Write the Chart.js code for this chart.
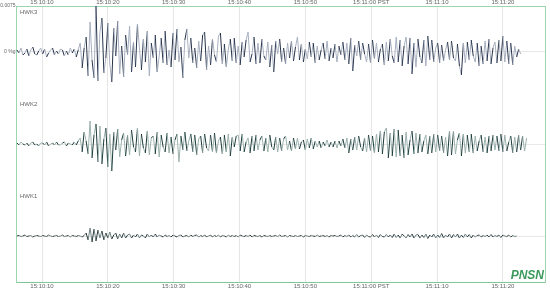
<!DOCTYPE html>
<html><head><meta charset="utf-8">
<script src="https://cdn.jsdelivr.net/npm/chart.js@4/dist/chart.umd.min.js"></script>
<style>html,body{margin:0;padding:0;background:#fff}#wrap{width:550px;height:290px}</style>
</head><body><div id="wrap"><canvas id="c" width="550" height="290"></canvas></div>
<script>
// ---- data ----
const stations = ['HWK3', 'HWK2', 'HWK1'];
const traceBaselines = [0, -0.015, -0.03];      // %g baseline of each trace
const countsToG = 0.0075 / 46;                  // %g per count
const startSec = 6.2;                           // seconds after 15:10:00 PST
const sampleSec = 0.3;
const tickSeconds = [10, 20, 30, 40, 50, 60, 70, 80];
const tickLabels = ['15:10:10', '15:10:20', '15:10:30', '15:10:40', '15:10:50', '15:11:00 PST', '15:11:10', '15:11:20'];
const yTickValues = [0.0075, 0, -0.015, -0.03];
const yTickLabels = ['0.0075', '0 %g', '', ''];

const hwk3 = [
  2,-1,4,-3,-1,3,-4,2,5,-2,-3,1,4,-2,3,-5,-1,2,4,-3,1,-2,3,2,-4,1,-3,4,-1,3,-5,2,
  9,-16,4,15,-24,30,-8,-26,46,-29,
  20,34,-21,-6,29,-12,-30,24,-4,31,
  -22,6,-25,17,-3,26,-20,10,-15,28,
  4,-18,13,-10,21,-24,9,-6,17,-20,
  -4,14,-11,21,-13,2,-15,19,-8,23,
  -10,5,-26,12,23,-6,14,-11,4,-16,
  11,-9,17,20,-18,6,-13,13,-3,-10,
  16,19,-12,8,-15,3,13,-9,14,-11,
  6,-13,10,-5,12,20,-10,-2,15,-12,
  9,-11,13,-4,-8,10,-15,7,-20,11,
  -2,13,-10,4,-12,9,-6,11,-9,5,
  15,-8,8,-10,3,-7,10,-5,9,-11,
  6,-8,2,9,-7,11,-9,4,-6,8,
  -10,6,-3,10,-8,9,-12,14,-19,7,
  -4,11,-8,9,-2,-10,8,-11,12,-7,
  9,-10,3,8,-13,10,-9,13,-4,-11,
  15,-10,12,-14,6,15,-12,14,-22,9,
  -15,13,-5,-11,12,-14,16,-8,12,-10,
  4,9,-11,7,-9,2,10,-8,11,-6,
  -9,8,-14,-23,9,-11,10,-8,12,-4,
  -10,9,-14,6,-12,11,-9,13,-12,4,
  10,-11,12,-9,16,-10,11,-12,9,-13,6,-5,3,-2
];
const hwk2 = [
  1,-1,2,0,-1,1,-2,1,2,-1,0,-2,1,1,-1,2,-2,0,1,-1,2,-1,-1,1,2,-2,1,0,-1,2,-1,3,
  6,-8,12,3,-10,23,-14,9,20,-18,
  18,-20,5,16,-23,10,-27,12,-6,15,
  -13,4,11,-12,9,-11,14,-3,-8,16,
  -12,10,-4,-9,13,-11,6,8,-10,12,
  -13,9,-3,-8,11,-9,7,-10,4,10,
  -18,8,-6,12,-7,3,10,-8,9,-11,
  5,8,-9,10,-4,-7,9,-8,11,-9,
  3,7,-10,9,-8,10,-12,7,-3,8,
  9,-7,10,-8,2,6,-9,8,-7,9,
  -6,4,8,-7,6,-8,9,-3,-6,7,
  -8,6,-7,5,8,-6,3,-7,6,-5,
  6,-5,2,4,-6,5,-4,6,-5,3,
  -3,3,-4,2,-2,4,-3,2,-3,3,
  -4,3,-2,5,-4,6,-9,5,-6,7,
  -6,8,-3,-7,6,-8,9,-7,8,-9,
  10,-8,13,-10,12,16,-14,11,-12,15,
  -13,14,-12,9,-14,12,-11,4,13,-10,
  11,-9,10,-8,3,9,-10,8,-9,10,
  -8,9,-7,8,-9,7,-12,13,-11,13,
  -10,4,11,-12,10,-9,9,-8,10,-9,
  8,-7,3,9,-8,7,-9,8,-7,9,
  -6,8,-7,10,-8,9,-7,2,8,-9,
  7,-8,9,-6,8,-7,6
];
const hwk1 = [
  0,0.5,-0.5,0,1,-0.5,0,0.5,-1,0,0.5,0,-0.5,0.5,0,-0.5,1,0,-0.5,0,0.5,-0.5,0,1,-0.5,0,0.5,-1,0.5,0,-0.5,0.5,0,-1,0.5,
  3,-4,8,-6,7,-5,6,-2,5,-4,
  3,-2,4,-3,1,3,-3,2,-2,3,
  -2,1,2,-2,1,-1,2,-2,1,0,-2,2,-1,1,-1,2,
  -1,1,0,-1,1,-0.5,0.5,-1,1,0,
  -1,0.5,1,-1,0,0.5,-1,1,-0.5,0.5,
  1,-1,0.5,-0.5,1,-1,0,1,-1,0.5,
  -0.5,1,-1,0.5,0,-1,1,-0.5,0.5,-0.5,
  0.5,-1,1,0,-0.5,0.5,-0.5,1,-1,0.5,
  0,-0.5,0.5,-1,0.5,0,-0.5,0.5,-0.5,0,
  0.5,-0.5,1,-0.5,0,0.5,-1,0.5,0,-0.5,
  0.5,-0.5,0,0.5,-1,0.5,0,-0.5,0.5,0,
  -0.5,1,-0.5,0,0.5,-0.5,0.5,-1,0.5,0,
  0.5,-0.5,0,1,-1,0.5,-0.5,1,-1,0.5,
  -1,1.5,-1,0.5,1,-1.5,1,-0.5,-1,1.5,
  -1,1,-1.5,1.5,-0.5,-1,1.5,-1,1,-1.5,
  2,-1.5,1,-2,2,0,-2,1.5,-1,2,
  -2,1,1.5,-2,1,-1.5,2,-2.5,1,-1,
  2,-2,1,-1.5,2.5,-2,1,-1,2,-2,
  1.5,-1,2,-2,1,-1.5,2,-1,1.5,-2,
  1,-1,0.5,1,-1,0.5,-0.5,1,-1,1.5,-1,0.5,-0.5,1,-1.5,1,0,-0.5,1,-1,0.5,-0.5,0
];
const traces = [hwk3, hwk2, hwk1];

// ---- styles ----
const FONT = 'Liberation Sans, Arial, sans-serif';
const traceColors = [
  { dark: '#26334a', light: '#a8b0c0' },
  { dark: '#1c3a3a', light: '#9cb2ad' },
  { dark: '#263636', light: '#6f8080' }
];
const frameGreen = '#9ad6ae';
const axisGreen = '#7cc896';

const datasets = traces.map((arr, k) => ({
  label: stations[k],
  data: arr.map((c, i) => ({ x: startSec + i * sampleSec, y: traceBaselines[k] + c * countsToG })),
  borderWidth: 1,
  pointRadius: 0,
  tension: 0,
  borderColor: traceColors[k].dark,
  segment: {
    borderColor: ctx => (((ctx.p0DataIndex * 7) % 5) < 2 ? traceColors[k].dark : traceColors[k].light)
  }
}));

const overlay = {
  id: 'overlay',
  afterDatasetsDraw(chart) {
    const { ctx, scales } = chart;
    ctx.save();
    ctx.font = '6px ' + FONT;
    ctx.fillStyle = '#666';
    ctx.textAlign = 'left';
    ctx.textBaseline = 'middle';
    stations.forEach((s, k) => {
      ctx.fillText(s, 20, scales.y.getPixelForValue(traceBaselines[k] + 40 * countsToG));
    });
    ctx.font = 'italic bold 12px ' + FONT;
    ctx.fillStyle = '#3a9a5c';
    ctx.textAlign = 'right';
    ctx.textBaseline = 'alphabetic';
    ctx.fillText('PNSN', chart.chartArea.right - 1, chart.chartArea.bottom - 3);
    ctx.restore();
  }
};

const xTicks = {
  font: { family: FONT, size: 6 },
  color: '#666',
  autoSkip: false,
  maxRotation: 0,
  callback: v => tickLabels[tickSeconds.indexOf(v)] ?? ''
};

new Chart(document.getElementById('c'), {
  type: 'line',
  data: { datasets },
  plugins: [overlay],
  options: {
    responsive: false,
    animation: false,
    devicePixelRatio: 1,
    parsing: false,
    normalized: true,
    layout: { padding: { left: 0, right: 5, top: 0, bottom: 0 } },
    plugins: { legend: { display: false }, tooltip: { enabled: false } },
    scales: {
      x: {
        type: 'linear', position: 'bottom', min: 6.05, max: 86.4,
        afterBuildTicks: s => { s.ticks = tickSeconds.map(v => ({ value: v })); },
        afterFit: s => { s.height = 8; },
        grid: { color: '#e6e6e6', drawTicks: false, lineWidth: 1 },
        border: { color: axisGreen, width: 1 },
        ticks: Object.assign({ padding: 1 }, xTicks)
      },
      x2: {
        type: 'linear', position: 'top', min: 6.05, max: 86.4,
        afterBuildTicks: s => { s.ticks = tickSeconds.map(v => ({ value: v })); },
        afterFit: s => { s.height = 6; },
        grid: { display: false, drawTicks: false },
        border: { color: frameGreen, width: 1 },
        ticks: Object.assign({ padding: 0 }, xTicks)
      },
      y: {
        type: 'linear', position: 'left', min: -0.0375, max: 0.0075,
        afterBuildTicks: s => { s.ticks = yTickValues.map(v => ({ value: v })); },
        afterFit: s => { s.width = 16; },
        grid: {
          drawTicks: false,
          color: c => (c.tick && c.tick.value === 0.0075 ? 'rgba(0,0,0,0)' : '#e8e8e8')
        },
        border: { color: frameGreen, width: 1 },
        ticks: {
          font: { family: FONT, size: 5 }, color: '#666', padding: 0.5,
          callback: v => yTickLabels[yTickValues.indexOf(v)] ?? ''
        }
      },
      y2: {
        type: 'linear', position: 'right', min: -0.0375, max: 0.0075,
        afterFit: s => { s.width = 0; },
        grid: { display: false, drawTicks: false },
        border: { color: frameGreen, width: 1 },
        ticks: { display: false }
      }
    }
  }
});
</script>
</body></html>
